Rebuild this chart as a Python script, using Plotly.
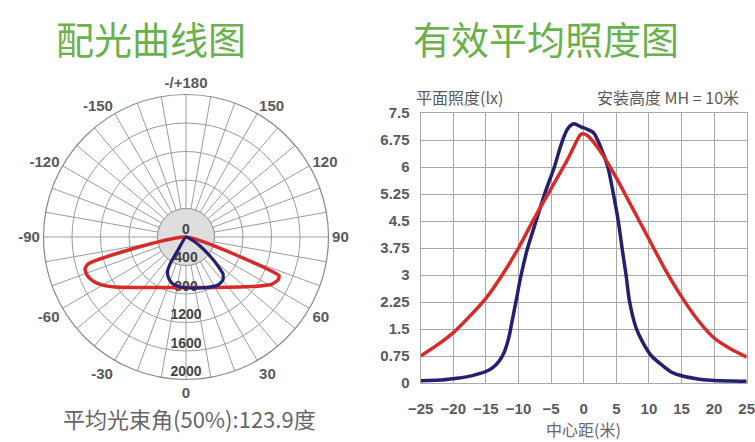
import plotly.graph_objects as go

# ---------------- data ----------------
# Polar luminous intensity curves (cd), angle in degrees (0 = straight down)
RED_THETA = [-90, -74.6, -72.4, -69.0, -64.7, -60.3, -54.8, -45.3, -27.2, 0, 29.9, 47.2, 56.5, 61.3, 65.0, 67.3, 68.0, 90]
RED_R = [0, 1428, 1487, 1489, 1444, 1358, 1219, 1008, 797, 709, 817, 1033, 1246, 1376, 1426, 1416, 1348, 0]

BLUE_THETA = [-32, -31.6, -30.6, -27.9, -22.0, -15.5, -6.8, 4.5, 15.4, 25.6, 33.7, 40.7, 45.0, 47.8, 51.6, 57.3, 63.4, 65]
BLUE_R = [0, 214, 441, 556, 636, 685, 707, 718, 742, 779, 810, 796, 735, 606, 430, 234, 94, 0]

RADIAL_TICKS = [0, 400, 800, 1200, 1600, 2000]
RADIAL_LABELS = ["0", "400", "800", "1200", "1600", "2000"]
ANGLE_GRID = list(range(0, 360, 10))
ANGLE_LABELS = {0: "0", 30: "30", 60: "60", 90: "90", 120: "120", 150: "150", 180: "-/+180",
                210: "-150", 240: "-120", 270: "-90", 300: "-60", 330: "-30"}

# Average illuminance curves (lx) vs distance from centre (m)
RED_X = [-25, -22.5, -20, -17.5, -15, -12.5, -10, -7.5, -5, -2.5, -1, -0.5, 0, 0.5, 1, 2.5, 5, 7.5, 10, 12.5, 15, 17.5, 20, 22.5, 25]
RED_Y = [0.75, 1.05, 1.4, 1.85, 2.35, 3.0, 3.75, 4.6, 5.4, 6.2, 6.75, 6.9, 6.92, 6.88, 6.8, 6.45, 5.7, 4.85, 4.0, 3.15, 2.4, 1.75, 1.25, 0.95, 0.72]

BLUE_X = [-25, -22, -20, -18, -16, -15, -14, -13, -12.2, -11.5, -11, -10.4, -9.6, -8.6, -7.3, -6, -4.5, -3.5, -2.5, -1.5, -0.5, 0.5, 1.5, 2.5, 3.7, 4.5, 5.3, 6, 6.5, 7, 8, 9, 10.4, 12, 13.5, 15, 18, 20, 25]
BLUE_Y = [0.06, 0.08, 0.12, 0.17, 0.26, 0.32, 0.42, 0.6, 0.85, 1.25, 1.7, 2.25, 3.0, 3.75, 4.5, 5.25, 6.0, 6.6, 7.05, 7.2, 7.12, 7.05, 6.95, 6.6, 6.0, 5.3, 4.5, 3.6, 3.0, 2.3, 1.55, 1.15, 0.75, 0.5, 0.3, 0.2, 0.1, 0.07, 0.05]

X_TICKS = [-25, -20, -15, -10, -5, 0, 5, 10, 15, 20, 25]
Y_TICKS = [0, 0.75, 1.5, 2.25, 3, 3.75, 4.5, 5.25, 6, 6.75, 7.5]
Y_TICK_TEXT = ["0", "0.75", "1.5", "2.25", "3", "3.75", "4.5", "5.25", "6", "6.75", "7.5"]

# ---------------- styles ----------------
W, H = 755, 442
RED = "#d92a2a"
BLUE = "#241f6f"
GREEN = "#6ab04c"
GRID = "#9c9c9c"
TXT = "#5a5a5a"
LATIN = "Liberation Sans, Arial, sans-serif"
CJK = "Noto Sans CJK SC, sans-serif"

fig = go.Figure()

# gray inner disc (r < 400)
fig.add_trace(go.Barpolar(r=[RADIAL_TICKS[1]], theta=[0], width=[360],
                          marker=dict(color="#dedede", line=dict(color="#999999", width=1)),
                          hoverinfo="skip", subplot="polar"))
# radial labels
fig.add_trace(go.Scatterpolar(r=RADIAL_TICKS, theta=[0] * len(RADIAL_TICKS), text=RADIAL_LABELS,
                              mode="text", textposition="top center",
                              textfont=dict(family=LATIN, size=14, color="#444444", weight="bold"),
                              hoverinfo="skip", subplot="polar", cliponaxis=False))
fig.add_trace(go.Scatterpolar(r=RED_R, theta=RED_THETA, mode="lines",
                              line=dict(color=RED, width=3.5, shape="spline", smoothing=0.5),
                              subplot="polar"))
fig.add_trace(go.Scatterpolar(r=BLUE_R, theta=BLUE_THETA, mode="lines",
                              line=dict(color=BLUE, width=3.2, shape="spline", smoothing=0.5),
                              subplot="polar"))

# illuminance chart
fig.add_trace(go.Scatter(x=BLUE_X, y=BLUE_Y, mode="lines",
                         line=dict(color=BLUE, width=3.5, shape="spline", smoothing=0.8),
                         xaxis="x", yaxis="y"))
fig.add_trace(go.Scatter(x=RED_X, y=RED_Y, mode="lines",
                         line=dict(color=RED, width=3.5, shape="spline", smoothing=0.8),
                         xaxis="x", yaxis="y"))

# polar geometry in pixels
CX, CY, R = 186, 237, 142.5

fig.update_layout(
    width=W, height=H, margin=dict(l=0, r=0, t=0, b=0, autoexpand=False),
    paper_bgcolor="white", plot_bgcolor="white", showlegend=False,
    polar=dict(
        domain=dict(x=[(CX - R) / W, (CX + R) / W], y=[1 - (CY + R) / H, 1 - (CY - R) / H]),
        bgcolor="white",
        angularaxis=dict(rotation=-90, direction="counterclockwise",
                         tickvals=ANGLE_GRID,
                         ticktext=[ANGLE_LABELS.get(a, "") for a in ANGLE_GRID],
                         ticks="", showgrid=True, gridcolor=GRID, gridwidth=0.8,
                         showline=True, linecolor="#8a8a8a", linewidth=1.2,
                         tickfont=dict(family=LATIN, size=15, color=TXT, weight="bold")),
        radialaxis=dict(range=[0, 2000], tickvals=RADIAL_TICKS[1:], showticklabels=False,
                        ticks="", showline=False, showgrid=True, gridcolor=GRID, gridwidth=0.8),
    ),
    xaxis=dict(domain=[420.7 / W, 746.7 / W], range=[-25, 25], tickvals=X_TICKS, automargin=False,
               ticklabeloverflow="allow",
               showgrid=True, gridcolor="#a8a8a8", gridwidth=1.3, zeroline=False,
               showline=True, mirror=True, linecolor="#a8a8a8", linewidth=1.3,
               ticks="outside", ticklen=12, tickcolor="rgba(0,0,0,0)",
               tickfont=dict(family=LATIN, size=15, color=TXT, weight="bold")),
    yaxis=dict(domain=[1 - 383 / H, 1 - 113 / H], range=[0, 7.5], tickvals=Y_TICKS, ticktext=Y_TICK_TEXT,
               automargin=False, ticklabeloverflow="allow",
               showgrid=True, gridcolor="#a8a8a8", gridwidth=1.3, zeroline=False,
               showline=True, mirror=True, linecolor="#a8a8a8", linewidth=1.3,
               ticks="outside", ticklen=7, tickcolor="rgba(0,0,0,0)",
               tickfont=dict(family=LATIN, size=15, color=TXT, weight="bold")),
    annotations=[
        dict(text="配光曲线图", x=151 / W, y=1 - 37 / H, xref="paper", yref="paper",
             xanchor="center", yanchor="middle", showarrow=False,
             font=dict(family=CJK, size=38, color=GREEN)),
        dict(text="有效平均照度图", x=546 / W, y=1 - 37 / H, xref="paper", yref="paper",
             xanchor="center", yanchor="middle", showarrow=False,
             font=dict(family=CJK, size=38, color=GREEN)),
        dict(text="平均光束角(50%):123.9度", x=189 / W, y=1 - 418 / H, xref="paper", yref="paper",
             xanchor="center", yanchor="middle", showarrow=False,
             font=dict(family=CJK, size=22, color="#666666")),
        dict(text="平面照度(lx)", x=414 / W, y=1 - 97 / H, xref="paper", yref="paper",
             xanchor="left", yanchor="middle", showarrow=False,
             font=dict(family=CJK, size=16, color=TXT)),
        dict(text="安装高度 MH = 10米", x=741 / W, y=1 - 97 / H, xref="paper", yref="paper",
             xanchor="right", yanchor="middle", showarrow=False,
             font=dict(family=CJK, size=16, color=TXT)),
        dict(text="中心距(米)", x=583 / W, y=1 - 429 / H, xref="paper", yref="paper",
             xanchor="center", yanchor="middle", showarrow=False,
             font=dict(family=CJK, size=16, color="#666666")),
    ],
)

fig.write_html("out.html", config={"displayModeBar": False},
               post_script="document.body.style.margin='0';document.body.style.overflow='hidden';")
